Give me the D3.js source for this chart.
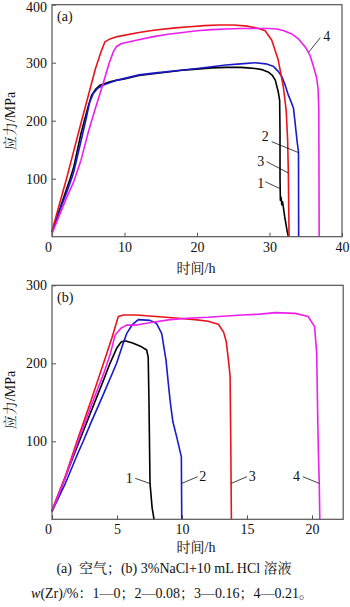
<!DOCTYPE html>
<html><head><meta charset="utf-8">
<script src="https://cdn.jsdelivr.net/npm/d3@7"></script>
<style>
html,body{margin:0;padding:0;background:#fff;}
svg{display:block;}
text{font-family:"Liberation Serif","Noto Serif CJK SC","Noto Sans CJK SC",serif;fill:#111;}
</style></head>
<body>
<script>
// ---------- data ----------
// Panel (a): air, time (h) vs stress (MPa)
const a1 = [[0,8],[1,45],[2,82],[2.5,100],[3,120],[4,178],[4.46,200],[5,225],[5.47,244],[6,254],[6.6,261],[8,267],[9,270],[10,272],[12,278],[14,281],[16,284],[18,287],[20,289],[22,291],[24,292],[26,292],[27,291],[28,290],[29,288],[29.8,284],[30.4,278],[30.8,270],[31.2,250],[31.4,235],[31.45,180],[31.45,100],[31.5,63],[31.6,68],[31.7,55],[31.8,60],[31.9,52],[32.1,34],[32.4,12],[32.6,0]];
const a2 = [[0,8],[1,43],[2,76],[2.7,100],[3,112],[4,165],[4.64,200],[5.2,232],[5.7,247],[6.3,256],[7,261],[9,270],[12,279],[14,282],[17,286],[20,290],[22,293],[24,296],[26,298],[28,300],[29.5,298],[30.5,294],[31.2,285],[31.7,276],[32.2,260],[32.6,244],[33.0,232],[33.3,222],[33.5,200],[33.8,165],[34.0,146],[34.02,0]];
const a3 = [[0,10],[1,55],[2,100],[3,148],[4,196],[5,243],[6,290],[6.8,320],[7.3,336],[8,341],[9,345],[12,352],[14,356],[17,360],[19,362],[21,364],[23,365],[25,365],[27,363],[28.5,359],[29.4,355],[30.3,339],[31.2,305],[31.9,259],[32.3,218],[32.5,167],[32.6,109],[32.7,0]];
const a4 = [[0,5],[1,36],[2,67],[3,95],[4,132],[5,180],[5.47,200],[6,222],[7,262],[7.9,300],[8.5,320],[8.9,328],[9.6,333],[12.1,340],[14,345],[16,349],[18,352],[20,355],[22,357],[24,358],[26,359],[28,359],[30,359],[31,358],[32,355],[33,350],[34,341],[35,326],[35.6,312],[36.1,292],[36.5,274],[36.7,255],[36.8,220],[36.85,0]];
// Panel (b): 3%NaCl + 10 mL HCl
const b1 = [[0,10],[1,53],[2,96],[3,138],[4,180],[4.46,200],[5.0,220],[5.3,227],[5.6,229],[6.2,226],[6.8,222],[7.28,217],[7.4,208],[7.46,150],[7.54,46],[7.7,15],[7.85,0]];
const b2 = [[0,10],[1,45],[2,85],[2.4,100],[3,124],[4,162],[4.97,200],[5.4,222],[5.74,238],[6.2,250],[6.64,256],[7.54,255],[8.05,251],[8.44,238],[8.77,204],[8.95,174],[9.1,150],[9.3,125],[9.6,105],[9.95,80],[9.98,0]];
const b3 = [[0,12],[1,54],[2,104],[3,152],[4,202],[4.6,232],[5.1,260],[5.5,262],[6.5,262],[8,260],[9.5,258],[11,256],[12,254],[12.8,250],[13.2,240],[13.4,228],[13.6,200],[13.7,183],[13.75,100],[13.8,0]];
const b4 = [[0,10],[1,52],[2,100],[3,145],[4,188],[4.5,213],[4.85,236],[5.3,245],[5.74,249],[6.5,249],[7.5,252],[9.1,256],[10.7,258],[12,259],[14.6,262],[16,263],[17.2,265],[18.7,264],[19.7,260],[20.2,247],[20.36,213],[20.45,120],[20.5,80],[20.56,46],[20.6,0]];

const seriesNames = ["1","2","3","4"];
const xTicksA = [0,10,20,30,40];
const yTicksA = [100,200,300,400];
const xTicksB = [0,5,10,15,20];
const yTicksB = [100,200,300];

// curve label annotations (data units): text position + leader line
const annA = [
 {t:"1", tx:28.8, ty:92,  x1:29.4, y1:94.8, x2:31.45, y2:83},
 {t:"2", tx:29.4, ty:172, x1:30.3, y1:163.8, x2:34.0, y2:145},
 {t:"3", tx:28.8, ty:130.5, x1:29.6, y1:129.3, x2:32.6, y2:110},
 {t:"4", tx:37.9, ty:345, x1:37.0, y1:343, x2:35.4, y2:318}
];
const annB = [
 {t:"1", tx:5.95, ty:52.6, x1:6.4, y1:52.6, x2:7.5, y2:46},
 {t:"2", tx:11.6, ty:54.6, x1:11.2, y1:54.6, x2:9.98, y2:46},
 {t:"3", tx:15.4, ty:55.5, x1:15.0, y1:54.6, x2:13.78, y2:46},
 {t:"4", tx:18.8, ty:54.6, x1:19.3, y1:54.6, x2:20.56, y2:46}
];

// ---------- drawing ----------
const colors = ["#000000","#1a1acc","#e8141c","#ee1fee"];
const svg = d3.select("body").append("svg").attr("width",350).attr("height",607);
svg.append("rect").attr("width",350).attr("height",607).attr("fill","#fff");

function panel(opts){
  const {x, y, xTicks, yTicks, series, ann, tag, tagY, xTitleY, yTitleY} = opts;
  const g = svg.append("g");
  const [x0,x1] = x.range(), [y0,y1] = y.range();
  // axes
  const xa = g.append("g").attr("transform",`translate(0,${y0})`)
    .call(d3.axisBottom(x).tickValues(xTicks).tickSizeInner(-4).tickSizeOuter(0).tickPadding(5).tickFormat(d3.format("d")));
  const ya = g.append("g").attr("transform",`translate(${x0},0)`)
    .call(d3.axisLeft(y).tickValues(yTicks).tickSizeInner(-4).tickSizeOuter(0).tickPadding(5).tickFormat(d3.format("d")));
  [xa,ya].forEach(a=>{
    a.select(".domain").remove();
    a.selectAll("line").attr("stroke","#555");
    a.selectAll("text").attr("font-size",14).attr("fill","#111")
      .style("font-family",'"Liberation Serif",serif');
  });
  xa.selectAll(".tick text").filter(d=>d===0).attr("dx",-4);
  // keep the topmost y label fully inside the picture
  ya.selectAll(".tick text").filter(d=>y(d)<8).attr("dy","0.45em");
  // lines
  const line = d3.line().x(d=>x(d[0])).y(d=>y(d[1]));
  series.forEach((s,i)=>{
    g.append("path").datum(s).attr("d",line).attr("fill","none")
      .attr("stroke",colors[i]).attr("stroke-width",1.6).attr("stroke-linejoin","round");
  });
  // frame
  g.append("rect").attr("x",x0).attr("y",y1).attr("width",x1-x0).attr("height",y0-y1)
    .attr("fill","none").attr("stroke","#555").attr("stroke-width",1.2);
  // annotations
  ann.forEach(a=>{
    g.append("line").attr("x1",x(a.x1)).attr("y1",y(a.y1)).attr("x2",x(a.x2)).attr("y2",y(a.y2))
      .attr("stroke","#111").attr("stroke-width",0.8);
    g.append("text").attr("x",x(a.tx)).attr("y",y(a.ty)).attr("text-anchor","middle")
      .attr("dominant-baseline","central").attr("font-size",14).text(a.t);
  });
  g.append("text").attr("x",x0+5).attr("y",tagY).attr("font-size",14).text(tag);
  g.append("text").attr("x",196).attr("y",xTitleY).attr("text-anchor","middle")
    .attr("dominant-baseline","central").attr("font-size",14).text("时间/h");
  g.append("text").attr("transform",`translate(10,${yTitleY}) rotate(-90)`).attr("text-anchor","middle")
    .attr("dominant-baseline","central").attr("font-size",14).text("应力/MPa");
}

panel({
  x: d3.scaleLinear().domain([0,40]).range([52,342]),
  y: d3.scaleLinear().domain([0,400]).range([236.7,4.7]),
  xTicks: xTicksA, yTicks: yTicksA, series:[a1,a2,a3,a4], ann: annA,
  tag:"(a)", tagY:21, xTitleY:268, yTitleY:121
});
panel({
  x: d3.scaleLinear().domain([0,22.4]).range([52,343.2]),
  y: d3.scaleLinear().domain([0,300]).range([519.3,285.3]),
  xTicks: xTicksB, yTicks: yTicksB, series:[b1,b2,b3,b4], ann: annB,
  tag:"(b)", tagY:302, xTitleY:547, yTitleY:400
});

// caption
const cap1 = svg.append("text").attr("x",174).attr("y",568).attr("text-anchor","middle")
  .attr("dominant-baseline","central").attr("font-size",14);
cap1.text("(a)\u00a0 空气；(b) 3%NaCl+10 mL HCl 溶液");
const cap2 = svg.append("text").attr("x",172).attr("y",593).attr("text-anchor","middle")
  .attr("dominant-baseline","central").attr("font-size",14);
cap2.append("tspan").attr("font-style","italic").text("w");
cap2.append("tspan").text("(Zr)/%：1—0；2—0.08；3—0.16；4—0.21。");
</script>
</body></html>
